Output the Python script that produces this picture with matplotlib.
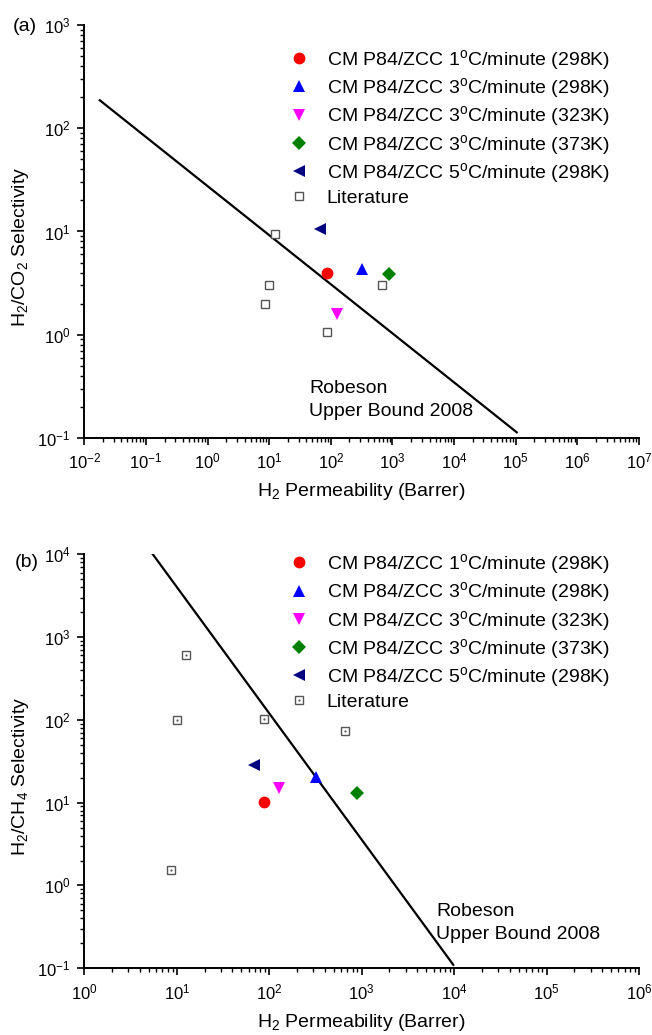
import matplotlib
matplotlib.use('Agg')
import matplotlib.pyplot as plt
from matplotlib.ticker import LogLocator, NullFormatter

plt.rcParams['font.family'] = ['Liberation Sans', 'DejaVu Sans']
plt.rcParams['mathtext.fontset'] = 'custom'
plt.rcParams['mathtext.rm'] = 'Liberation Sans'
plt.rcParams['mathtext.it'] = 'Liberation Sans:italic'
plt.rcParams['mathtext.bf'] = 'Liberation Sans:bold'

# ---- data ----
series_labels = [
    r'CM P84/ZCC 1$^{\mathrm{o}}$C/minute (298K)',
    r'CM P84/ZCC 3$^{\mathrm{o}}$C/minute (298K)',
    r'CM P84/ZCC 3$^{\mathrm{o}}$C/minute (323K)',
    r'CM P84/ZCC 3$^{\mathrm{o}}$C/minute (373K)',
    r'CM P84/ZCC 5$^{\mathrm{o}}$C/minute (298K)',
]
lit_label = 'Literature'

# panel (a): H2/CO2
h2_perm_a = [87, 321, 128, 883, 67]
sel_co2 = [4.0, 4.3, 1.6, 3.9, 10.6]
lit_perm_a = [12.5, 10, 8.6, 87, 668]
lit_sel_co2 = [9.4, 3.0, 2.0, 1.06, 3.0]
robeson_perm_a = [0.0178, 1.04e5]
robeson_sel_a = [187, 0.113]

# panel (b): H2/CH4
h2_perm_b = [88, 317, 127, 884, 68]
sel_ch4 = [10.3, 20.6, 15.1, 13.2, 28.6]
lit_perm_b = [12.5, 10.1, 88, 668, 8.6]
lit_sel_ch4 = [614, 99, 102, 74, 1.53]
robeson_perm_b = [5.5, 9.8e3]
robeson_sel_b = [1.0e4, 0.11]

markers = ['o', '^', 'v', 'D', '<']
colors = ['#ff0000', '#0000ff', '#ff00ff', '#008000', '#000080']
msizes = [8.5, 8.5, 8.5, 7, 8.5]

fig = plt.figure(figsize=(6.52, 10.35), dpi=100)
ax_a = fig.add_axes([0.1294, 0.577, 0.8506, 0.3987])
ax_b = fig.add_axes([0.1294, 0.0645, 0.8506, 0.400])


def draw_panel(ax, perm, sel, lit_x, lit_y, rob_x, rob_y, xlim, ylim,
               ylabel, leg_anchor, rob_pos, dotted):
    ax.plot(rob_x, rob_y, color='black', lw=1.6)
    handles = []
    for i in range(len(perm)):
        h, = ax.plot([perm[i]], [sel[i]], linestyle='none', marker=markers[i],
                     color=colors[i], markersize=msizes[i], markeredgewidth=0)
        handles.append(h)
    sq, = ax.plot(lit_x, lit_y, linestyle='none', marker='s', markersize=6,
                  markerfacecolor='white', markeredgecolor='#555555',
                  markeredgewidth=1.0)
    if dotted:
        dot, = ax.plot(lit_x, lit_y, linestyle='none', marker='.',
                       markersize=1.2, color='#555555')
        handles.append((sq, dot))
    else:
        handles.append(sq)
    ax.legend(handles, series_labels + [lit_label], loc='upper left',
              bbox_to_anchor=leg_anchor, frameon=False, fontsize=14,
              handlelength=1.0, handletextpad=0.9, labelspacing=0.22,
              borderaxespad=0, borderpad=0)

    ax.set_xscale('log')
    ax.set_yscale('log')
    ax.set_xlim(*xlim)
    ax.set_ylim(*ylim)
    ax.xaxis.set_major_locator(LogLocator(base=10, numticks=20))
    ax.xaxis.set_minor_locator(LogLocator(base=10, subs=range(2, 10), numticks=20))
    ax.yaxis.set_major_locator(LogLocator(base=10, numticks=20))
    ax.yaxis.set_minor_locator(LogLocator(base=10, subs=range(2, 10), numticks=20))
    ax.xaxis.set_minor_formatter(NullFormatter())
    ax.yaxis.set_minor_formatter(NullFormatter())

    for side in ['top', 'right']:
        ax.spines[side].set_visible(False)
    for side in ['left', 'bottom']:
        ax.spines[side].set_linewidth(1.4)
    ax.tick_params(which='major', direction='out', length=5, width=1.2,
                   labelsize=12, pad=5)
    ax.tick_params(which='minor', direction='out', length=3, width=1.0)

    ax.set_xlabel(r'H$_2$ Permeability (Barrer)', fontsize=14)
    ax.xaxis.set_label_coords(0.5, -0.105)
    ax.set_ylabel(ylabel, fontsize=14)
    ax.yaxis.set_label_coords(-0.096, 0.464)

    ax.text(rob_pos[0], rob_pos[1], 'Robeson\nUpper Bound 2008',
            transform=ax.transAxes, ha='left', va='top', fontsize=14,
            linespacing=1.45)


draw_panel(ax_a, h2_perm_a, sel_co2, lit_perm_a, lit_sel_co2,
           robeson_perm_a, robeson_sel_a, (1e-2, 1e7), (1e-1, 1e3),
           r'H$_2$/CO$_2$ Selectivity', (0.37, 0.945), (0.405, 0.14), False)
draw_panel(ax_b, h2_perm_b, sel_ch4, lit_perm_b, lit_sel_ch4,
           robeson_perm_b, robeson_sel_b, (1e0, 1e6), (1e-1, 1e4),
           r'H$_2$/CH$_4$ Selectivity', (0.37, 1.005), (0.634, 0.158), True)

fig.text(0.02, 0.974, '(a)', fontsize=14, ha='left', va='center')
fig.text(0.022, 0.457, '(b)', fontsize=14, ha='left', va='center')

fig.savefig('out.png', dpi=100)
